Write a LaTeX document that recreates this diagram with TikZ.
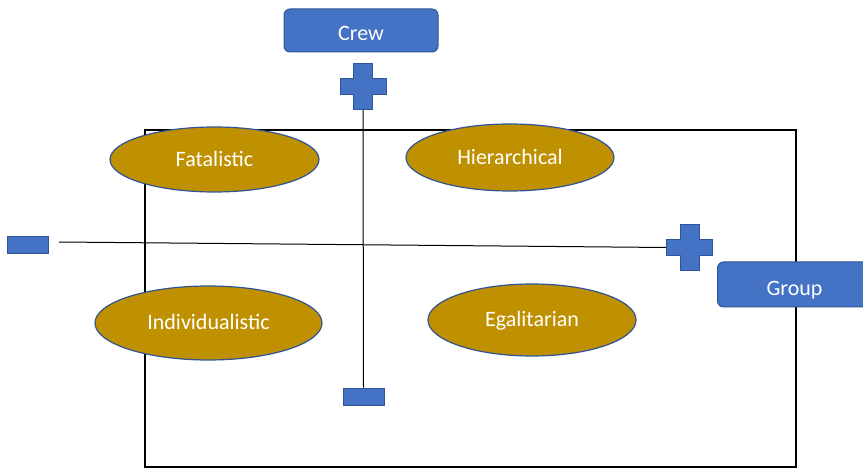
\documentclass[tikz,border=0pt]{standalone}
\usepackage{fontspec}
\setmainfont{Carlito}
\usetikzlibrary{shapes.geometric,calc}
\definecolor{boxblue}{HTML}{4472C4}
\definecolor{edgeblue}{HTML}{2F5597}
\definecolor{gold}{HTML}{BF9000}
\tikzset{
  bluebox/.style={draw=edgeblue, line width=1pt, fill=boxblue, rounded corners=6pt, text=white, font=\fontsize{22}{24}\selectfont, inner sep=0pt, text depth=0pt, text height=21pt},
  culture/.style={ellipse, draw=edgeblue, line width=1.2pt, fill=gold, text=white, font=\fontsize{22}{24}\selectfont, inner sep=0pt, text depth=0pt, text height=14pt},
  minusbox/.style={draw=edgeblue, line width=0.8pt, fill=boxblue, minimum width=41pt, minimum height=17pt, inner sep=0pt},
  crossbox/.style={minimum width=46pt, minimum height=46pt, inner sep=0pt},
  crossfill/.style={draw=edgeblue, line width=0.8pt, fill=boxblue},
  axis/.style={draw=black, line width=1pt}
}
\newcommand\crossat[1]{\draw[crossfill] (#1) ++(-23,-8) -- ++(13.5,0) -- ++(0,-15) -- ++(19,0) -- ++(0,15) -- ++(13.5,0) -- ++(0,16) -- ++(-13.5,0) -- ++(0,15) -- ++(-19,0) -- ++(0,-15) -- ++(-13.5,0) -- cycle;}
\begin{document}
\begin{tikzpicture}[x=1pt,y=-1pt]
\useasboundingbox (0,0) rectangle (863,470);
% frame
\draw[black, line width=1.5pt] (145,130) rectangle (796,467);
% plus / minus markers
\node[crossbox] (ptop) at (363,86.5) {};
\node[crossbox] (pright) at (689.5,247.5) {};
\node[minusbox] (mbot) at (363.5,396.5) {};
\node[minusbox] (mleft) at (28,245) {};
\coordinate (hleft) at (59,242);
% axes
\draw[axis] (ptop.south) -- (mbot.north);
\draw[axis] (hleft) -- (pright.west);
\crossat{ptop}
\crossat{pright}
% labels
\node[bluebox, minimum width=154pt, minimum height=43pt] (crew) at (361,30.5) {Crew};
\node[bluebox, minimum width=154pt, minimum height=45pt, anchor=west, text height=23pt] (group) at (717,284.5) {Group};
% cultures
\node[culture, minimum width=209pt, minimum height=65pt] (fat) at (214.5,159.5) {Fatalistic};
\node[culture, minimum width=208pt, minimum height=67pt] (hier) at (510,157.5) {Hierarchical};
\node[culture, minimum width=227pt, minimum height=74pt] (ind) at (208.5,323) {Individualistic};
\node[culture, minimum width=208pt, minimum height=72pt] (ega) at (532,320) {Egalitarian};
\end{tikzpicture}
\end{document}
